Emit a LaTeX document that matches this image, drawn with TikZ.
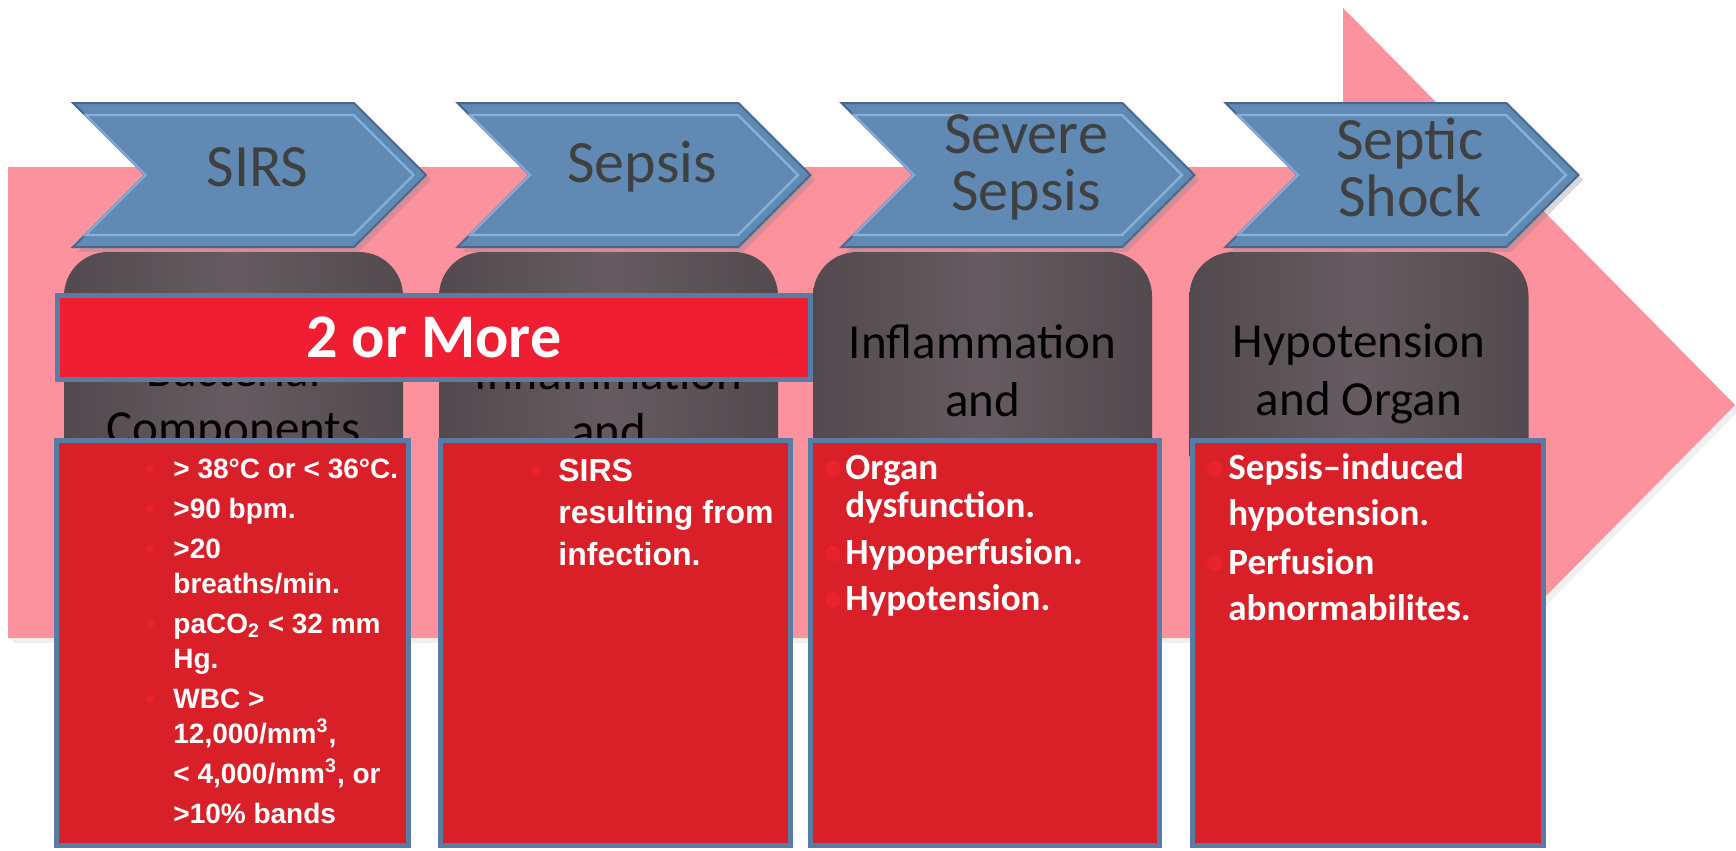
\documentclass[tikz,border=0pt]{standalone}
\usepackage{fontspec}
\setmainfont{Carlito}
\newfontfamily\arialfont{Liberation Sans}
\usepackage{tikz}
\usetikzlibrary{shapes.symbols, shadows, positioning}

\definecolor{arrowpink}{RGB}{252,146,158}
\definecolor{chevblue}{RGB}{96,137,180}
\definecolor{chevedge}{RGB}{70,104,144}
\definecolor{chevlight}{RGB}{150,190,232}
\definecolor{chevtext}{RGB}{64,64,64}
\definecolor{defgrey}{RGB}{101,91,96}
\definecolor{greyedge}{RGB}{82,74,78}
\definecolor{barred}{RGB}{240,30,50}
\definecolor{boxred}{RGB}{217,31,40}
\definecolor{frameblue}{RGB}{88,124,165}
\definecolor{dotred}{RGB}{234,34,48}

\newcommand\itemdot[1]{\makebox[0pt][r]{\textcolor{dotred}{\textbullet}\hspace{#1}}}

\begin{document}
\begin{tikzpicture}[x=0.5pt, y=-0.5pt]
        \tikzstyle{stage} = [signal, signal from=west, signal to=east, signal pointer angle=90, draw=chevedge, line width=1pt, fill=chevblue, minimum width=176.5pt, minimum height=72pt, inner sep=0pt, drop shadow={opacity=0.3}]
        \tikzstyle{bevel} = [signal, signal from=west, signal to=east, signal pointer angle=90, draw=chevlight, draw opacity=0.75, line width=1.2pt, minimum width=164pt, minimum height=60pt, inner sep=0pt]
        \tikzstyle{stagetext} = [text=chevtext, align=center, font=\fontsize{30}{28.5}\selectfont, xshift=4pt, yshift=4pt]
        \tikzstyle{define} = [rectangle, rounded corners=22pt, left color=greyedge, right color=greyedge, middle color=defgrey, minimum width=169.5pt, align=center, font=\fontsize{24.5}{29}\selectfont]
        \tikzstyle{critbox} = [rectangle, draw=frameblue, line width=2.5pt, fill=boxred, minimum width=176pt, minimum height=202.5pt]
        \tikzstyle{crit} = [anchor=north west, inner sep=0pt, align=left, text=white]

        \useasboundingbox (0,0) rectangle (1736,851);
        \fill[arrowpink, drop shadow={opacity=0.12}] (8,167) -- (1343,167) -- (1343,8) -- (1735,405) -- (1343,801) -- (1343,638) -- (8,638) -- cycle;

        \node [stage] (sirs) at (249.5,175) {};
        \node [bevel] (sirsbevel) at (sirs) {};
        \node [stagetext] (sirsname) at (sirs) {SIRS};
        \node [stage] (sepsis) at (634,175) {};
        \node [bevel] (sepsisbevel) at (sepsis) {};
        \node [stagetext] (sepsisname) at (sepsis) {Sepsis};
        \node [stage] (severe) at (1018,175) {};
        \node [bevel] (severebevel) at (severe) {};
        \node [stagetext] (severename) at (severe) {Severe\\Sepsis};
        \node [stage] (shock) at (1402,175) {};
        \node [bevel] (shockbevel) at (shock) {};
        \node [stagetext] (shockname) at (shock) {Septic\\Shock};

        \node [define, minimum height=150pt] (sirsdef) at (233.5,402) {Bacterial\\Components};
        \node [define, minimum height=150pt] (sepsisdef) at (608.5,402) {Inflammation\\and};
        \node [define, minimum height=119pt] (severedef) at (982.5,371) {Inflammation\\and};
        \node [define, minimum height=122pt] (shockdef) at (1359,374) {Hypotension\\and Organ};

        \node [rectangle, draw=frameblue, line width=2.5pt, fill=barred, minimum width=376.5pt, minimum height=42pt, text=white, font=\fontsize{31}{31}\selectfont\bfseries] (twomore) at (434,337.5) {2 or More};

        \node [critbox] (sirsbox) at (232.5,643) {};
        \node [critbox, minimum width=175pt] (sepsisbox) at (615.5,643) {};
        \node [critbox, minimum width=174.5pt] (severebox) at (985,643) {};
        \node [critbox, minimum width=175.5pt] (shockbox) at (1368,643) {};

        \node [crit, font=\arialfont\bfseries\fontsize{14}{17.5}\selectfont] (sirslist) at (173,453.5) {\strut\itemdot{9pt}> 38\textdegree C or < 36\textdegree C.\\[2.5pt]
            \itemdot{9pt}>90 bpm.\\[2.5pt]
            \itemdot{9pt}>20\\
            breaths/min.\\[2.5pt]
            \itemdot{9pt}paCO\textsubscript{2} < 32 mm\\
            Hg.\\[2.5pt]
            \itemdot{9pt}WBC >\\
            12,000/mm\textsuperscript{3},\\[2.5pt]
            < 4,000/mm\textsuperscript{3}, or\\[2.5pt]
            >10\% bands};
        \node [crit, font=\arialfont\bfseries\fontsize{16}{21}\selectfont] (sepsislist) at (558,451.6) {\strut\itemdot{8.5pt}SIRS\\
            resulting from\\
            infection.};
        \node [crit, font=\bfseries\fontsize{18.5}{19}\selectfont] (severelist) at (845,452.4) {\strut\itemdot{1.5pt}Organ\\
            dysfunction.\\[4.5pt]
            \itemdot{1.5pt}Hypoperfusion.\\[4pt]
            \itemdot{1.5pt}Hypotension.};
        \node [crit, font=\bfseries\fontsize{18.5}{23}\selectfont] (shocklist) at (1228,446.8) {\strut\itemdot{2pt}Sepsis--induced\\
            hypotension.\\[1.5pt]
            \itemdot{2pt}Perfusion\\
            abnormabilites.};
\end{tikzpicture}
\end{document}
